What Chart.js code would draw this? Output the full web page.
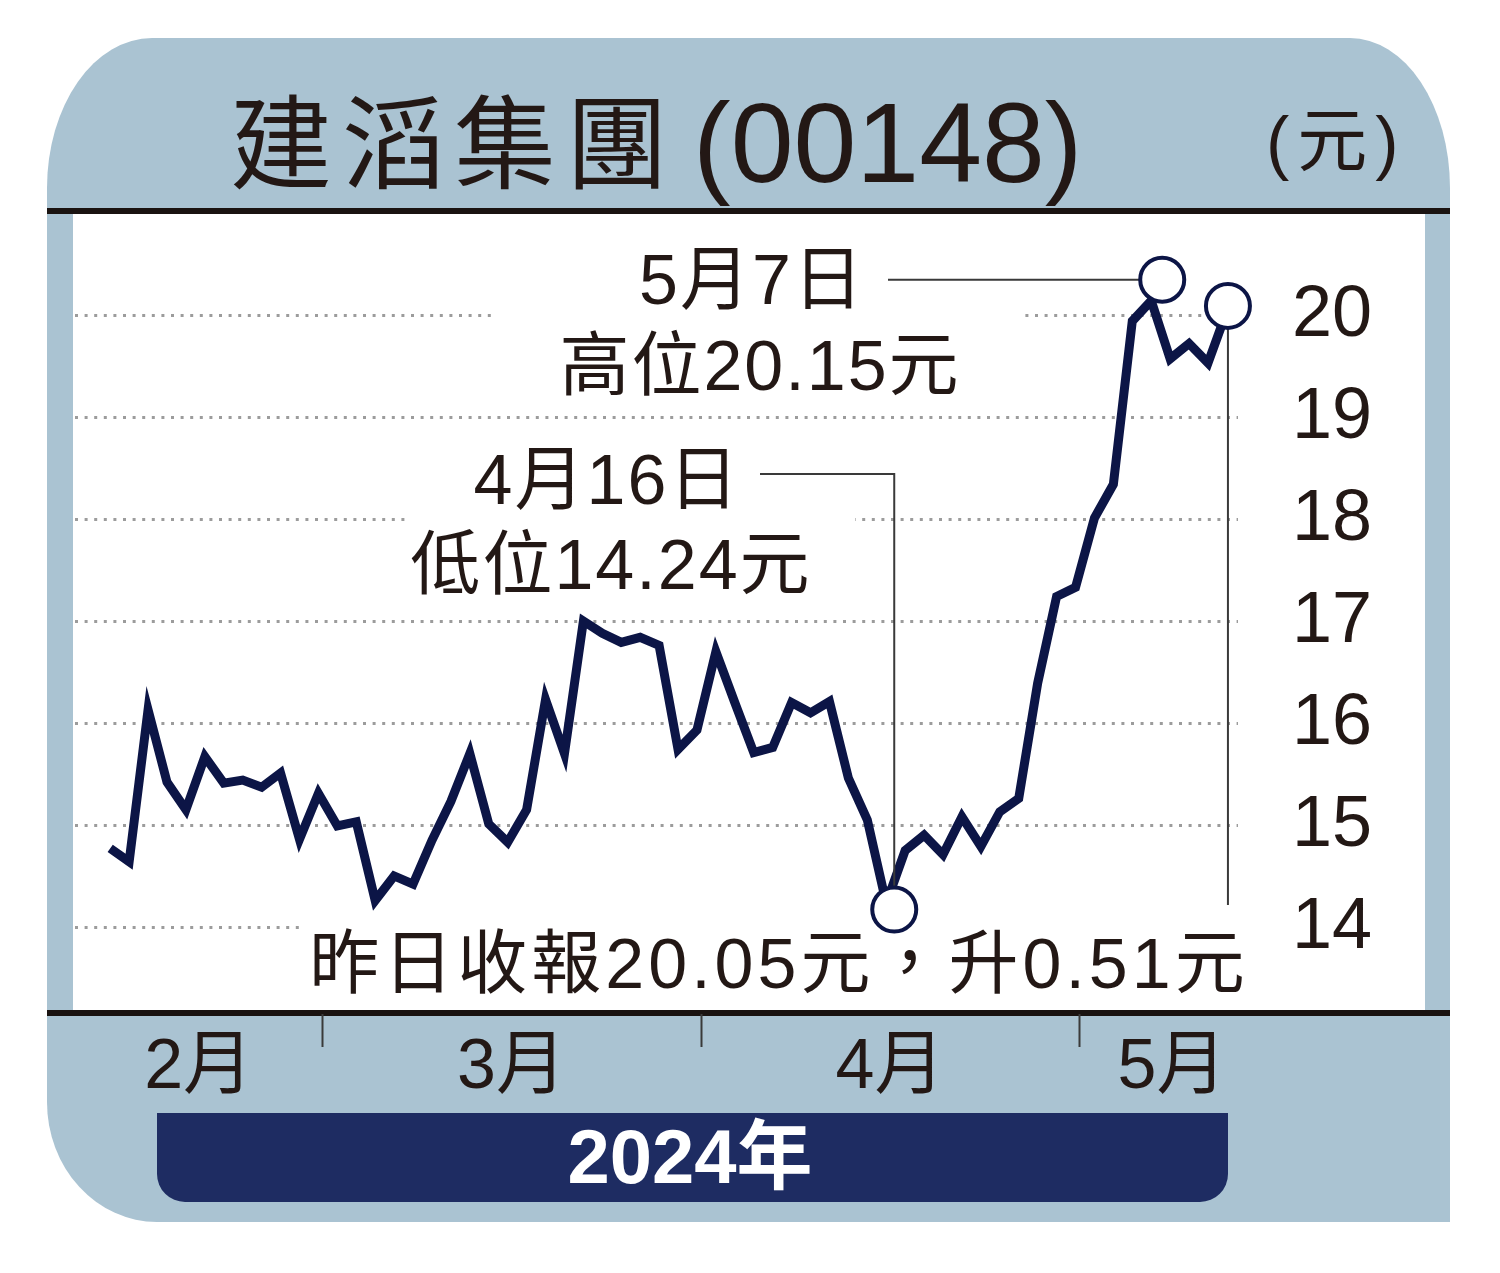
<!DOCTYPE html>
<html>
<head>
<meta charset="utf-8">
<script src="https://cdn.jsdelivr.net/npm/chart.js@4.4.1/dist/chart.umd.min.js"></script>
<style>
  html, body { margin: 0; padding: 0; background: #fff; }
  canvas { display: block; }
</style>
</head>
<body>
<canvas id="myChart" width="1500" height="1273"></canvas>
<script>
// trading days shown on the chart (2024)
const tradingDays = [
  "2/14", "2/15", "2/16", "2/19", "2/20", "2/21", "2/22", "2/23", "2/26", "2/27", "2/28", "2/29",
  "3/1", "3/4", "3/5", "3/6", "3/7", "3/8", "3/11", "3/12", "3/13", "3/14", "3/15", "3/18", "3/19",
  "3/20", "3/21", "3/22", "3/25", "3/26", "3/27", "3/28",
  "4/2", "4/3", "4/5", "4/8", "4/9", "4/10", "4/11", "4/12", "4/15", "4/16", "4/17", "4/18", "4/19",
  "4/22", "4/23", "4/24", "4/25", "4/26", "4/29", "4/30",
  "5/2", "5/3", "5/6", "5/7", "5/8", "5/9", "5/10", "5/13",
];
// closing price (HK$)
const closes = [
  14.78, 14.65, 16.14, 15.43, 15.16, 15.68, 15.42, 15.45, 15.38, 15.52, 14.87, 15.32,
  15.0, 15.04, 14.27, 14.51, 14.43, 14.86, 15.24, 15.71, 15.02, 14.84, 15.16, 16.24, 15.71,
  17.01, 16.89, 16.8, 16.85, 16.77, 15.75, 15.94,
  16.71, 16.21, 15.72, 15.77, 16.21, 16.11, 16.22, 15.47, 15.06, 14.24, 14.76, 14.91, 14.72,
  15.09, 14.8, 15.14, 15.27, 16.4, 17.25, 17.34,
  18.02, 18.35, 19.95, 20.15, 19.58, 19.73, 19.54, 20.05,
];
const yTicks = [14, 15, 16, 17, 18, 19, 20];
const monthNames = { 2: "2月", 3: "3月", 4: "4月", 5: "5月" };
const lowDay = "4/16";
const highDay = "5/7";
const lastDay = "5/13";

const FONT = '"Liberation Sans", Arial, "Noto Sans CJK TC", sans-serif';
const INK = "#231815";
const PANEL = "#aac3d2";
const NAVY = "#0c1546";
const BAND = "#1e2c62";

const ctx = document.getElementById("myChart");

// month spans in index units, derived from the dates
function monthSpans(xMin) {
  const spans = [];
  tradingDays.forEach((d, i) => {
    const m = parseInt(d.split("/")[0]);
    if (!spans.length || spans[spans.length - 1].m !== m) {
      if (spans.length) spans[spans.length - 1].end = i - 0.8;
      spans.push({ m: m, start: spans.length ? i - 0.8 : xMin });
    }
  });
  spans[spans.length - 1].end = tradingDays.length + 1;
  return spans;
}

function roundPanel(c) {
  const L = 47, T = 38, R = 1450, B = 1222;
  c.beginPath();
  c.moveTo(L, B - 120);
  c.ellipse(L + 105, T + 150, 105, 150, 0, Math.PI, Math.PI * 1.5);
  c.ellipse(R - 100, T + 150, 100, 150, 0, Math.PI * 1.5, Math.PI * 2);
  c.lineTo(R, B);
  c.ellipse(L + 110, B - 120, 110, 120, 0, Math.PI * 0.5, Math.PI);
  c.closePath();
}

const framePlugin = {
  id: "frame",
  beforeDraw(chart) {
    const c = chart.ctx;
    const xs = chart.scales.x;
    c.save();
    c.fillStyle = "#fff";
    c.fillRect(0, 0, chart.width, chart.height);
    roundPanel(c);
    c.fillStyle = PANEL;
    c.fill();
    // white plot panel
    c.fillStyle = "#fff";
    c.fillRect(73, 214, 1352, 797);
    // thick rules
    c.fillStyle = "#1a1311";
    c.fillRect(47, 208, 1403, 6);
    c.fillRect(47, 1010, 1403, 6);

    // title
    c.fillStyle = INK;
    c.textBaseline = "alphabetic";
    c.textAlign = "left";
    c.font = "102px " + FONT;
    c.letterSpacing = "10px";
    c.fillText("建滔集團", 230, 181);
    c.font = "113px " + FONT;
    c.letterSpacing = "0px";
    c.fillText("(00148)", 693, 182);
    c.font = "70px " + FONT;
    c.letterSpacing = "8px";
    c.fillText("(元)", 1266, 166);
    c.letterSpacing = "0px";

    // month labels and separators
    const spans = monthSpans(xs.min);
    c.textAlign = "center";
    c.font = "70px " + FONT;
    spans.forEach((s, k) => {
      const cx = (xs.getPixelForValue(s.start) + xs.getPixelForValue(s.end)) / 2;
      c.fillText(monthNames[s.m], cx, 1088);
      if (k > 0) {
        const tx = Math.round(xs.getPixelForValue(s.start)) + 0.5;
        c.strokeStyle = "#3a3a3a";
        c.lineWidth = 2;
        c.beginPath();
        c.moveTo(tx, 1014);
        c.lineTo(tx, 1047);
        c.stroke();
      }
    });

    // year band
    c.fillStyle = BAND;
    c.beginPath();
    c.roundRect(157, 1113, 1071, 89, [0, 0, 28, 28]);
    c.fill();
    c.fillStyle = "#fff";
    c.font = "bold 76px " + FONT;
    c.fillText("2024年", 690, 1183);
    c.restore();
  },
  beforeDatasetsDraw(chart) {
    const c = chart.ctx;
    c.save();
    c.fillStyle = "#fff";
    c.fillRect(495, 245, 530, 155);
    c.fillRect(405, 440, 450, 160);
    c.fillRect(302, 922, 960, 80);
    c.fillStyle = INK;
    c.textAlign = "center";
    c.font = "70px " + FONT;
    c.letterSpacing = "2px";
    c.fillText("5月7日", 752, 304);
    c.fillText("高位20.15元", 760, 390);
    c.fillText("4月16日", 607, 504);
    c.fillText("低位14.24元", 611, 589);
    c.letterSpacing = "4px";
    c.fillText("昨日收報20.05元，升0.51元", 779, 988);
    c.restore();
  },
  afterDatasetsDraw(chart) {
    const c = chart.ctx;
    const xs = chart.scales.x;
    const ys = chart.scales.y;
    const at = (day, dx, dy) => {
      const i = tradingDays.indexOf(day);
      return { x: xs.getPixelForValue(i) + dx, y: ys.getPixelForValue(closes[i]) + dy };
    };
    const r = 22;
    const high = at(highDay, 11, -21);
    const low = at(lowDay, 8, 6);
    const last = at(lastDay, 1, -5);
    c.save();
    c.strokeStyle = "#3a3a3a";
    c.lineWidth = 2;
    c.beginPath();
    c.moveTo(888, high.y);
    c.lineTo(high.x - r, high.y);
    c.moveTo(760, 474);
    c.lineTo(low.x, 474);
    c.lineTo(low.x, low.y - r);
    c.moveTo(last.x, last.y + r);
    c.lineTo(last.x, 905);
    c.stroke();
    [high, low, last].forEach((p) => {
      c.beginPath();
      c.arc(p.x, p.y, r, 0, Math.PI * 2);
      c.fillStyle = "#fff";
      c.fill();
      c.lineWidth = 4;
      c.strokeStyle = NAVY;
      c.stroke();
    });
    c.restore();
  },
};

const myChart = new Chart(ctx, {
  type: "line",
  data: {
    labels: tradingDays,
    datasets: [
      {
        label: "建滔集團(00148)",
        data: closes.map((v, i) => ({ x: i, y: v })),
        borderColor: NAVY,
        borderWidth: 9,
        pointRadius: 0,
        tension: 0,
        borderJoinStyle: "miter",
      },
    ],
  },
  options: {
    responsive: false,
    animation: false,
    events: [],
    layout: { padding: { left: 75, top: 214, bottom: 263, right: 74 } },
    plugins: {
      legend: { display: false },
      title: { display: false },
      tooltip: { enabled: false },
    },
    scales: {
      x: {
        type: "linear",
        display: false,
        min: -1.86,
        max: 59.58,
      },
      y: {
        position: "right",
        min: 13.196,
        max: 21.0,
        afterBuildTicks: (scale) => {
          scale.ticks = yTicks.map((v) => ({ value: v }));
        },
        grid: {
          color: "#9c9c9c",
          lineWidth: 3,
          drawTicks: false,
        },
        border: { display: false, dash: [3, 6.6] },
        ticks: {
          padding: 54,
          color: INK,
          font: { family: FONT, size: 72 },
          callback: (v) => String(v),
        },
      },
    },
  },
  plugins: [framePlugin],
});
</script>
</body>
</html>
